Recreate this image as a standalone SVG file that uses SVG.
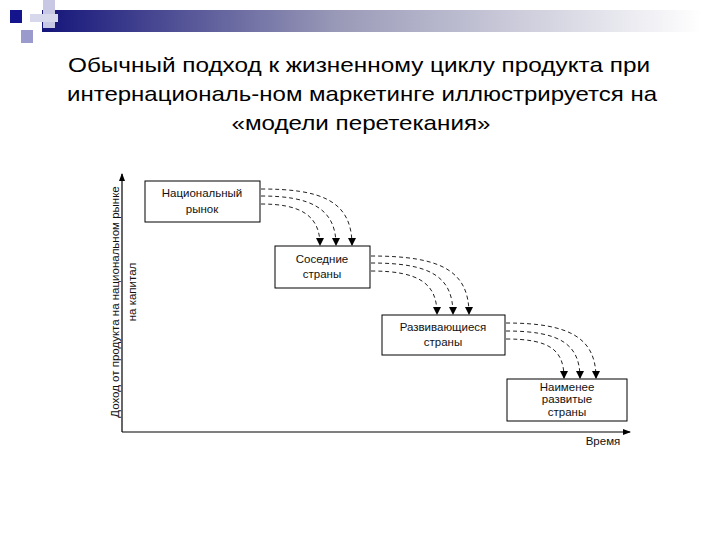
<svg xmlns="http://www.w3.org/2000/svg" width="720" height="540" viewBox="0 0 720 540">
<style>
.t{font-family:"Liberation Sans",Arial,sans-serif;fill:#000}
.title{font-size:21px;text-anchor:middle}
.lbl{font-size:11.5px;text-anchor:middle;fill:#111}
.box{fill:#fff;stroke:#000;stroke-width:1}
.dash{fill:none;stroke:#222;stroke-width:1;stroke-dasharray:4,3;marker-end:url(#ah)}
.ax{stroke:#000;stroke-width:1.2;fill:none}
</style>
<defs>
<linearGradient id="bar" x1="0" x2="1" y1="0" y2="0">
<stop offset="0" stop-color="#14147a"/>
<stop offset="0.45" stop-color="#9a9ab8"/>
<stop offset="1" stop-color="#ffffff"/>
</linearGradient>
<marker id="ah" markerWidth="8" markerHeight="8" refX="7" refY="4" orient="auto" markerUnits="userSpaceOnUse">
<path d="M0,0 L8,4 L0,8 Z" fill="#000"/>
</marker>
<marker id="axh" markerWidth="8" markerHeight="8" refX="7" refY="4" orient="auto" markerUnits="userSpaceOnUse">
<path d="M0,1 L8,4 L0,7 Z" fill="#000"/>
</marker>
</defs>
<g id="decor">
<rect x="42" y="10" width="660" height="22" fill="url(#bar)"/>
<rect x="43" y="0" width="12" height="28" fill="#c8c8e4"/>
<rect x="30" y="14" width="28" height="8" fill="#d8d8ec"/>
<rect x="10" y="10" width="12" height="13" fill="#14148c"/>
<rect x="21" y="30" width="12" height="13" fill="#9a9acc"/>
</g>
<g id="title" class="t title">
<text x="359" y="72" textLength="582" lengthAdjust="spacingAndGlyphs">Обычный подход к жизненному циклу продукта при</text>
<text x="362" y="101" textLength="590" lengthAdjust="spacingAndGlyphs">интернациональ-ном маркетинге иллюстрируется на</text>
<text x="361" y="130" textLength="259" lengthAdjust="spacingAndGlyphs">«модели перетекания»</text>
</g>
<g id="axes">
<path class="ax" d="M122,432 L122,174" marker-end="url(#axh)"/>
<path class="ax" d="M122,432 L630,432" marker-end="url(#axh)"/>
<text class="t lbl" transform="translate(119,302) rotate(-90)">Доход от продукта на национальном рынке</text>
<text class="t lbl" transform="translate(136,292) rotate(-90)">на капитал</text>
<text class="t lbl" x="603" y="445">Время</text>
</g>
<g id="n1"><rect class="box" x="145" y="181" width="115" height="41"/>
<text class="t lbl" x="202" y="197">Национальный</text><text class="t lbl" x="202" y="213">рынок</text></g>
<g id="n2"><rect class="box" x="275" y="246" width="95" height="42"/>
<text class="t lbl" x="322" y="263">Соседние</text><text class="t lbl" x="322" y="278">страны</text></g>
<g id="n3"><rect class="box" x="382" y="315" width="123" height="40"/>
<text class="t lbl" x="443" y="331">Развивающиеся</text><text class="t lbl" x="443" y="346">страны</text></g>
<g id="n4"><rect class="box" x="507" y="379" width="120" height="42"/>
<text class="t lbl" x="567" y="391">Наименее</text><text class="t lbl" x="567" y="403">развитые</text><text class="t lbl" x="567" y="416">страны</text></g>
<g id="connectors">
<path class="dash" d="M261,189 C320,189 352,200 352,245"/>
<path class="dash" d="M261,196 C310,196 336,208 336,245"/>
<path class="dash" d="M261,204 C300,204 320,215 320,245"/>
<path class="dash" d="M371,256 C440,256 469,270 469,314"/>
<path class="dash" d="M371,263 C430,263 453,276 453,314"/>
<path class="dash" d="M371,271 C420,271 437,284 437,314"/>
<path class="dash" d="M506,323 C570,323 596,338 596,378"/>
<path class="dash" d="M506,331 C560,331 580,344 580,378"/>
<path class="dash" d="M506,339 C550,339 564,350 564,378"/>
</g>
</svg>
